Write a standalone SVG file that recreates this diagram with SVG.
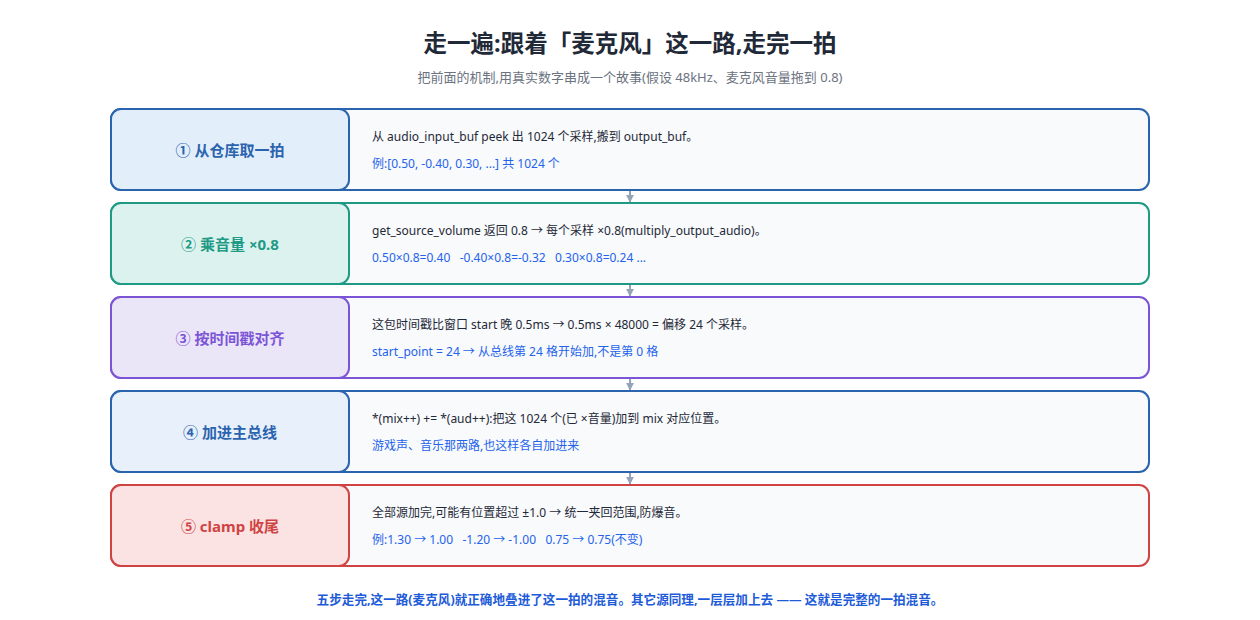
<svg xmlns="http://www.w3.org/2000/svg" width="1260" height="620" viewBox="0 0 1260 620">
<style>
text{font-family:"Noto Sans","Noto Sans CJK SC",sans-serif}
.title{font-size:23.5px;font-weight:700;fill:#1f2937}
.sub{font-size:13px;fill:#6b7280}
.lbl{font-size:15px;font-weight:700}
.t1{font-size:12px;fill:#1f2937}
.t2{font-size:12px;fill:#2563eb}
.foot{font-size:12.6px;font-weight:700;fill:#1d5bd8}
.outer{fill:#f8fafc;stroke-width:2}
.left{stroke-width:2}
.conn{stroke:#94a3b8;stroke-width:2;fill:none}
</style>
<defs>
<marker id="ah" viewBox="0 0 10 10" refX="9" refY="5" markerWidth="4" markerHeight="4" orient="auto">
<path d="M0,0 L10,5 L0,10 z" fill="#94a3b8"/>
</marker>
</defs>
<rect width="1260" height="620" fill="#ffffff"/>
<text class="title" x="630" y="52" text-anchor="middle">走一遍:跟着「麦克风」这一路,走完一拍</text>
<text class="sub" x="630" y="82" text-anchor="middle">把前面的机制,用真实数字串成一个故事(假设 48kHz、麦克风音量拖到 0.8)</text>

<g id="connectors">
<line class="conn" x1="630" y1="191" x2="630" y2="202" marker-end="url(#ah)"/>
<line class="conn" x1="630" y1="285" x2="630" y2="296" marker-end="url(#ah)"/>
<line class="conn" x1="630" y1="379" x2="630" y2="390" marker-end="url(#ah)"/>
<line class="conn" x1="630" y1="473" x2="630" y2="484" marker-end="url(#ah)"/>
</g>

<g id="step1">
<rect class="outer" x="111" y="109" width="1038" height="81" rx="10" stroke="#2b64ae"/>
<rect class="left" x="111" y="109" width="238" height="81" rx="10" fill="#e3eefb" stroke="#2b64ae"/>
<text class="lbl" x="230" y="156" text-anchor="middle" fill="#2b64ae">① 从仓库取一拍</text>
<text class="t1" x="372" y="141">从 audio_input_buf peek 出 1024 个采样,搬到 output_buf。</text>
<text class="t2" x="372" y="168">例:[0.50, -0.40, 0.30, ...] 共 1024 个</text>
</g>

<g id="step2">
<rect class="outer" x="111" y="203" width="1038" height="81" rx="10" stroke="#1e9a85"/>
<rect class="left" x="111" y="203" width="238" height="81" rx="10" fill="#dcf2ee" stroke="#1e9a85"/>
<text class="lbl" x="230" y="250" text-anchor="middle" fill="#1e9a85">② 乘音量 ×0.8</text>
<text class="t1" x="372" y="235">get_source_volume 返回 0.8 → 每个采样 ×0.8(multiply_output_audio)。</text>
<text class="t2" x="372" y="262" xml:space="preserve">0.50×0.8=0.40   -0.40×0.8=-0.32   0.30×0.8=0.24 ...</text>
</g>

<g id="step3">
<rect class="outer" x="111" y="297" width="1038" height="81" rx="10" stroke="#7c55d6"/>
<rect class="left" x="111" y="297" width="238" height="81" rx="10" fill="#ebe5f8" stroke="#7c55d6"/>
<text class="lbl" x="230" y="344" text-anchor="middle" fill="#7c55d6">③ 按时间戳对齐</text>
<text class="t1" x="372" y="329">这包时间戳比窗口 start 晚 0.5ms → 0.5ms × 48000 = 偏移 24 个采样。</text>
<text class="t2" x="372" y="356">start_point = 24 → 从总线第 24 格开始加,不是第 0 格</text>
</g>

<g id="step4">
<rect class="outer" x="111" y="391" width="1038" height="81" rx="10" stroke="#2b64ae"/>
<rect class="left" x="111" y="391" width="238" height="81" rx="10" fill="#e8f0fb" stroke="#2b64ae"/>
<text class="lbl" x="230" y="438" text-anchor="middle" fill="#2b64ae">④ 加进主总线</text>
<text class="t1" x="372" y="423">*(mix++) += *(aud++):把这 1024 个(已 ×音量)加到 mix 对应位置。</text>
<text class="t2" x="372" y="450">游戏声、音乐那两路,也这样各自加进来</text>
</g>

<g id="step5">
<rect class="outer" x="111" y="485" width="1038" height="81" rx="10" stroke="#d04343"/>
<rect class="left" x="111" y="485" width="238" height="81" rx="10" fill="#fbe3e3" stroke="#d04343"/>
<text class="lbl" x="230" y="532" text-anchor="middle" fill="#d04343">⑤ clamp 收尾</text>
<text class="t1" x="372" y="517">全部源加完,可能有位置超过 ±1.0 → 统一夹回范围,防爆音。</text>
<text class="t2" x="372" y="544" xml:space="preserve">例:1.30 → 1.00   -1.20 → -1.00   0.75 → 0.75(不变)</text>
</g>

<text class="foot" x="630" y="604" text-anchor="middle">五步走完,这一路(麦克风)就正确地叠进了这一拍的混音。其它源同理,一层层加上去 —— 这就是完整的一拍混音。</text>
</svg>
